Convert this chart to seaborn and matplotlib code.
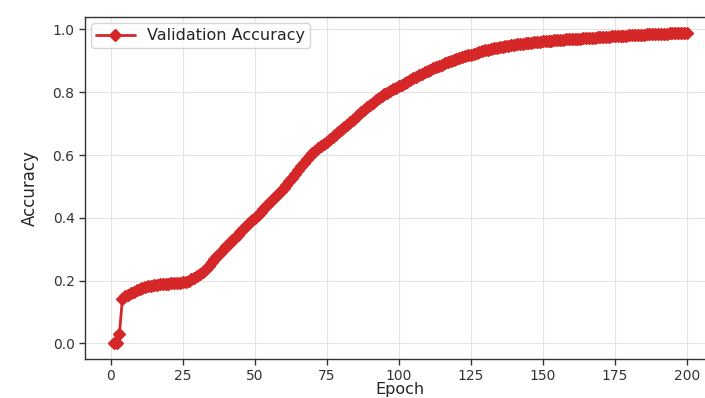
import matplotlib
matplotlib.use("Agg")
import matplotlib.pyplot as plt
import seaborn as sns
import pandas as pd

epochs = list(range(1, 201))
val_acc = [
    0.000, 0.000, 0.030, 0.140, 0.150, 0.155, 0.160, 0.165, 0.170, 0.174,
    0.177, 0.180, 0.182, 0.184, 0.185, 0.187, 0.188, 0.189, 0.190, 0.190,
    0.191, 0.192, 0.192, 0.193, 0.195, 0.197, 0.200, 0.204, 0.208, 0.214,
    0.221, 0.229, 0.238, 0.248, 0.258, 0.268, 0.279, 0.289, 0.299, 0.309,
    0.318, 0.328, 0.337, 0.346, 0.356, 0.365, 0.374, 0.383, 0.392, 0.401,
    0.410, 0.419, 0.428, 0.438, 0.447, 0.456, 0.466, 0.476, 0.486, 0.496,
    0.506, 0.517, 0.528, 0.540, 0.552, 0.564, 0.576, 0.587, 0.597, 0.606,
    0.614, 0.622, 0.629, 0.636, 0.643, 0.650, 0.657, 0.664, 0.672, 0.680,
    0.688, 0.696, 0.704, 0.712, 0.720, 0.728, 0.736, 0.744, 0.752, 0.760,
    0.767, 0.774, 0.781, 0.787, 0.793, 0.799, 0.804, 0.809, 0.814, 0.819,
    0.824, 0.829, 0.834, 0.839, 0.844, 0.849, 0.854, 0.859, 0.864, 0.868,
    0.872, 0.876, 0.880, 0.884, 0.888, 0.892, 0.896, 0.899, 0.902, 0.905,
    0.908, 0.911, 0.914, 0.917, 0.920, 0.923, 0.926, 0.929, 0.931, 0.934,
    0.936, 0.938, 0.940, 0.942, 0.944, 0.945, 0.947, 0.948, 0.950, 0.951,
    0.952, 0.954, 0.955, 0.956, 0.957, 0.958, 0.959, 0.960, 0.961, 0.962,
    0.963, 0.964, 0.964, 0.965, 0.966, 0.967, 0.967, 0.968, 0.969, 0.970,
    0.970, 0.971, 0.971, 0.972, 0.973, 0.973, 0.974, 0.974, 0.975, 0.975,
    0.976, 0.977, 0.977, 0.978, 0.978, 0.979, 0.979, 0.980, 0.980, 0.981,
    0.981, 0.982, 0.982, 0.983, 0.983, 0.984, 0.984, 0.985, 0.985, 0.985,
    0.986, 0.986, 0.986, 0.987, 0.987, 0.987, 0.988, 0.988, 0.988, 0.988,
]
series_label = "Validation Accuracy"
x_label = "Epoch"
y_label = "Accuracy"
x_ticks = [0, 25, 50, 75, 100, 125, 150, 175, 200]
y_ticks = [0.0, 0.2, 0.4, 0.6, 0.8, 1.0]

df = pd.DataFrame({"Epoch": epochs, "Accuracy": val_acc})

sns.set_style("ticks")
plt.rcParams["font.family"] = ["DejaVu Sans"]

fig = plt.figure(figsize=(7.05, 3.98), dpi=100)
ax = fig.add_axes([85 / 705, 39 / 398, 630.5 / 705, 342 / 398])

sns.lineplot(data=df, x="Epoch", y="Accuracy", ax=ax, color="#d62728",
             marker="D", markersize=6.5, linewidth=2, markeredgewidth=1,
             markeredgecolor="#d62728", label=series_label)

ax.set_xticks(x_ticks)
ax.set_yticks(y_ticks)
ax.set_xlim(-8.95, 209.95)
ax.set_ylim(-0.0495, 1.0395)
ax.tick_params(labelsize=10, length=4, width=1, colors="#333333")
ax.set_xlabel(x_label, fontsize=11.5, labelpad=-1)
ax.set_ylabel(y_label, fontsize=12, labelpad=10)
ax.grid(True, color="#e3e3e3", linestyle="-", linewidth=0.8)
for name, s in ax.spines.items():
    s.set_visible(name != "right")
    s.set_color("#333333")
    s.set_linewidth(1)
ax.legend(loc="upper left", fontsize=11.5, frameon=True, borderaxespad=0.4,
          borderpad=0.3, handlelength=2.4)

fig.savefig("out.png", dpi=100)
